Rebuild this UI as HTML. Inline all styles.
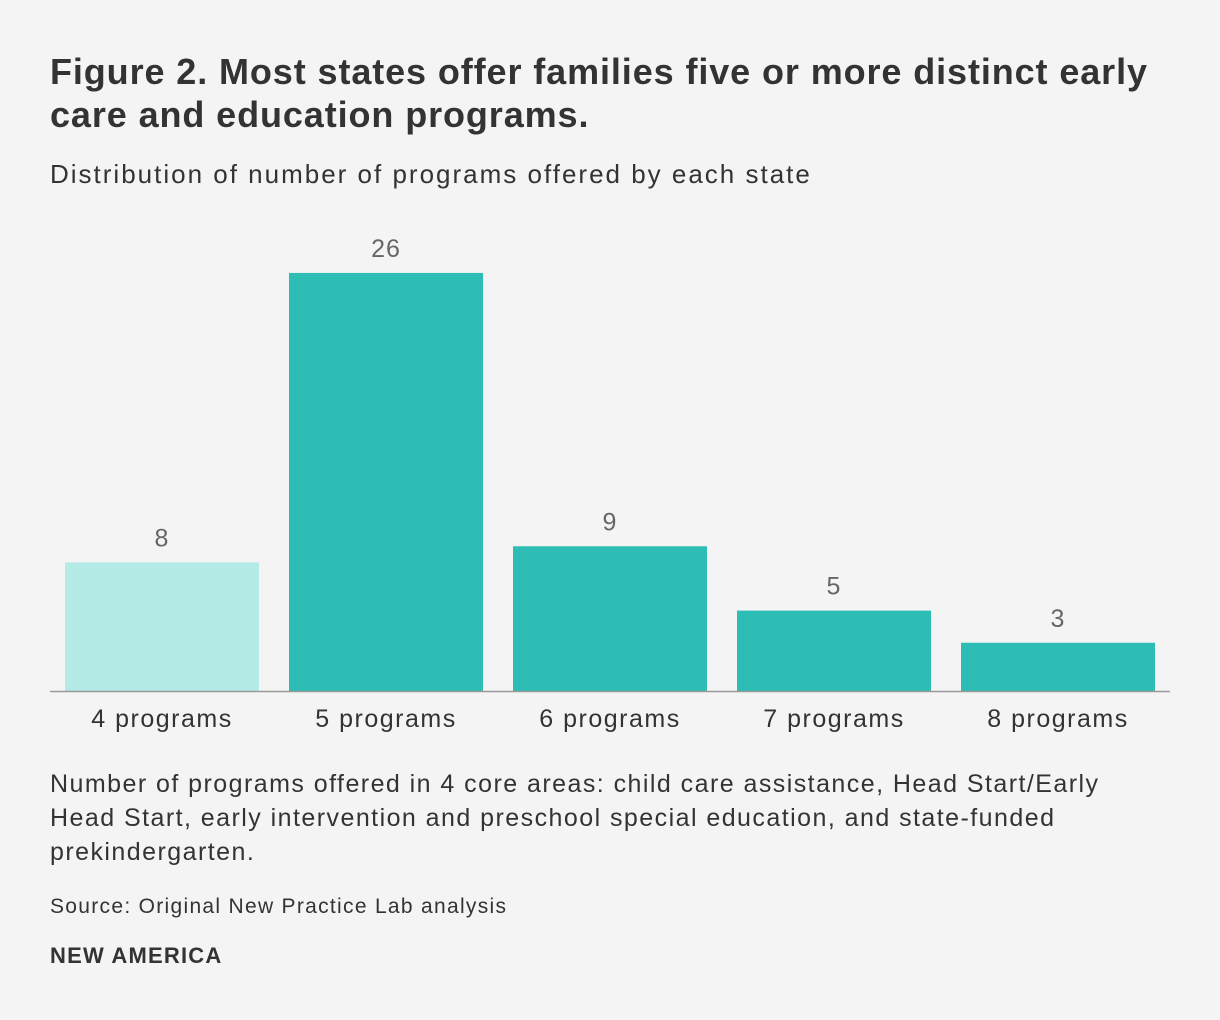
<!DOCTYPE html>
<html><head><meta charset="utf-8"><style>
body{margin:0;width:1220px;height:1020px;background:#f4f4f4;font-family:"Liberation Sans",sans-serif;color:#333;position:relative;overflow:hidden}
.t{position:absolute;left:50px;white-space:nowrap}
#title{top:50px;font-size:36px;font-weight:bold;line-height:43px;letter-spacing:0.9px}
#sub{top:159px;font-size:26px;letter-spacing:2px}
#note{top:767px;font-size:25px;line-height:34px;letter-spacing:1.45px}
#src{top:895px;font-size:21px;letter-spacing:1.3px}
#brand{top:943px;font-size:22px;font-weight:bold;letter-spacing:1.2px}
svg{position:absolute;left:0;top:0}
</style></head><body>
<div class="t" id="title">Figure 2. Most states offer families five or more distinct early<br>care and education programs.</div>
<div class="t" id="sub">Distribution of number of programs offered by each state</div>
<svg id="chart" width="1220" height="760"></svg>
<div class="t" id="note">Number of programs offered in 4 core areas: child care assistance, Head Start/Early<br>Head Start, early intervention and preschool special education, and state-funded<br>prekindergarten.</div>
<div class="t" id="src">Source: Original New Practice Lab analysis</div>
<div class="t" id="brand">NEW AMERICA</div>
<script>
const categories=["4 programs","5 programs","6 programs","7 programs","8 programs"];
const values=[8,26,9,5,3];
const highlight=[true,false,false,false,false];
const NS="http://www.w3.org/2000/svg";
const svg=document.getElementById('chart');
const baseY=691,pxPer=16.08,x0=65,step=224,bw=194;
const y=v=>baseY-v*pxPer;
const x=i=>x0+i*step;
function mk(t,a){const e=document.createElementNS(NS,t);for(const k in a)e.setAttribute(k,a[k]);svg.appendChild(e);return e;}
values.forEach((v,i)=>{
 const r=mk('rect',{x:x(i),y:y(v),width:bw,height:baseY-y(v),fill:highlight[i]?'#b5ebe7':'#2ebdb4'});
 
 
 const l=mk('text',{x:x(i)+bw/2,y:y(v)-16,'text-anchor':'middle','font-size':25,fill:'#666','font-family':'Liberation Sans,sans-serif','letter-spacing':1});
 l.textContent=v;
 
 
 const c=mk('text',{x:x(i)+bw/2,y:727,'text-anchor':'middle','font-size':25,fill:'#333','font-family':'Liberation Sans,sans-serif','letter-spacing':1.5});
 c.textContent=categories[i];
 
 
});
const ax=mk('line',{x1:50,x2:1170,y1:baseY+0.5,y2:baseY+0.5,stroke:'#999','stroke-width':1.5});


</script>
</body></html>
